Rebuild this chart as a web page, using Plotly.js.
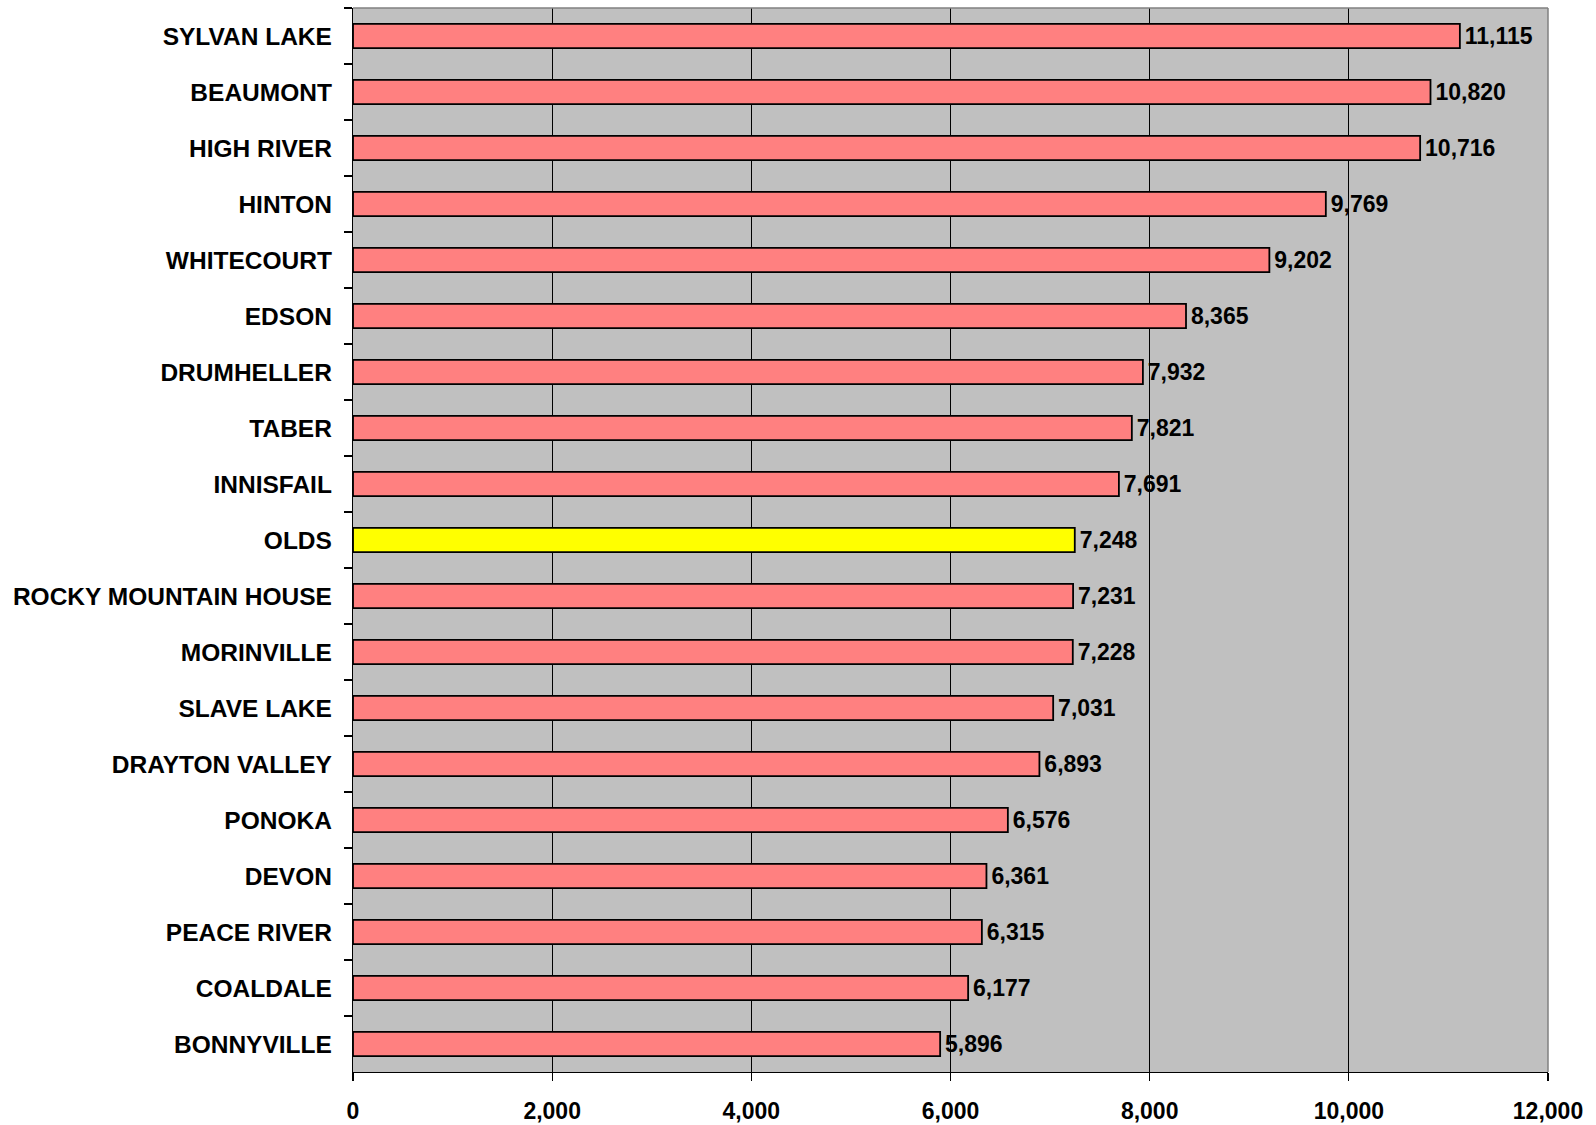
<!DOCTYPE html>
<html>
<head>
<meta charset="utf-8">
<script src="https://cdn.plot.ly/plotly-3.0.1.min.js"></script>
<style>html,body{margin:0;padding:0;background:#fff;}#chart{width:1596px;height:1125px;}</style>
</head>
<body>
<div id="chart"></div>
<script>
const towns = ["SYLVAN LAKE","BEAUMONT","HIGH RIVER","HINTON","WHITECOURT","EDSON","DRUMHELLER","TABER","INNISFAIL","OLDS","ROCKY MOUNTAIN HOUSE","MORINVILLE","SLAVE LAKE","DRAYTON VALLEY","PONOKA","DEVON","PEACE RIVER","COALDALE","BONNYVILLE"];
const population = [11115,10820,10716,9769,9202,8365,7932,7821,7691,7248,7231,7228,7031,6893,6576,6361,6315,6177,5896];
const highlight = "OLDS";
const xTicks = [0,2000,4000,6000,8000,10000,12000];

const colors = towns.map(t => t === highlight ? "#FFFF00" : "#FF8080");
const fontFam = '"Liberation Sans", Arial, sans-serif';

const trace = {
  type: "bar",
  orientation: "h",
  y: towns,
  x: population,
  marker: {color: colors, line: {color: "#000000", width: 1.8}},
  texttemplate: "\u200A%{x:,}",
  textposition: "outside",
  constraintext: "none",
  cliponaxis: false,
  textfont: {family: fontFam, size: 23, color: "#000000", weight: 700},
  hoverinfo: "skip"
};

const layout = {
  width: 1596, height: 1125,
  margin: {l: 353, r: 48, t: 8, b: 53},
  paper_bgcolor: "#FFFFFF",
  plot_bgcolor: "#C0C0C0",
  showlegend: false,
  bargap: 0.57,
  font: {family: fontFam, size: 23, color: "#000000", weight: 700},
  xaxis: {
    range: [0, 12000],
    tickvals: xTicks,
    ticktext: xTicks.map(v => v.toLocaleString("en-US")),
    showgrid: true, gridcolor: "#000000", gridwidth: 1,
    zeroline: false,
    showline: true, linecolor: "#000000", linewidth: 1.2,
    ticks: "outside", ticklen: 8, tickcolor: "#000000", tickwidth: 1.2,
    tickfont: {family: fontFam, size: 23, color: "#000000", weight: 700},
    ticklabelstandoff: 10,
    fixedrange: true
  },
  yaxis: {
    type: "category",
    autorange: "reversed",
    showgrid: false,
    zeroline: false,
    showline: true, linecolor: "#000000", linewidth: 1.2,
    ticks: "outside", tickson: "boundaries", ticklen: 8, tickcolor: "#000000", tickwidth: 1.2,
    tickfont: {family: fontFam, size: 24.5, color: "#000000", weight: 700},
    ticklabelstandoff: 15,
    fixedrange: true
  },
  shapes: [
    {type: "line", xref: "paper", yref: "paper", x0: 0, x1: 1, y0: 1, y1: 1, line: {color: "#808080", width: 1.5}},
    {type: "line", xref: "paper", yref: "paper", x0: 1, x1: 1, y0: 0, y1: 1, line: {color: "#808080", width: 1.5}}
  ]
};

Plotly.newPlot("chart", [trace], layout, {staticPlot: true, displayModeBar: false});
</script>
</body>
</html>
